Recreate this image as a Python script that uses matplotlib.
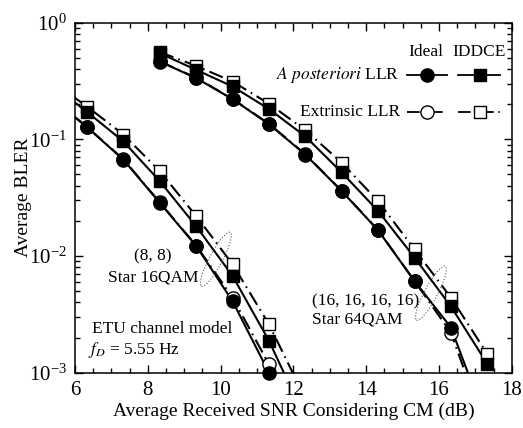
import matplotlib
matplotlib.use("Agg")
import matplotlib.pyplot as plt
import numpy as np
from matplotlib.lines import Line2D
from matplotlib.patches import Ellipse
from matplotlib.ticker import LogLocator, MultipleLocator, NullFormatter
from matplotlib.transforms import ScaledTranslation

plt.rcParams['font.family'] = 'serif'
plt.rcParams['font.serif'] = ['Liberation Serif', 'DejaVu Serif']
plt.rcParams['mathtext.fontset'] = 'stix'

# Star 16QAM (8, 8)
snr_16 = [5.33, 6.33, 7.33, 8.33, 9.33, 10.33, 11.33, 12.33]
ideal_app_16 = [0.23, 0.127, 0.067, 0.0286, 0.0122, 0.0041, 0.00100, 0.0002]
ideal_ext_16 = [0.23, 0.128, 0.0675, 0.0288, 0.0123, 0.0044, 0.00118, 0.00025]
iddce_app_16 = [0.30, 0.172, 0.096, 0.0438, 0.018, 0.00675, 0.00188, 0.0004]
iddce_ext_16 = [0.32, 0.191, 0.110, 0.0533, 0.022, 0.0085, 0.0026, 0.0006]

# Star 64QAM (16, 16, 16, 16)
snr_64 = [8.33, 9.33, 10.33, 11.33, 12.33, 13.33, 14.33, 15.33, 16.33, 17.33]
ideal_app_64 = [0.464, 0.335, 0.221, 0.135, 0.074, 0.036, 0.0166, 0.0061, 0.00244, 0.00036]
ideal_ext_64 = [0.466, 0.337, 0.222, 0.136, 0.0745, 0.0362, 0.0167, 0.0061, 0.0022, 0.0003]
iddce_app_64 = [0.547, 0.394, 0.284, 0.182, 0.106, 0.052, 0.0243, 0.0097, 0.0037, 0.00119]
iddce_ext_64 = [0.56, 0.426, 0.313, 0.202, 0.12, 0.063, 0.0295, 0.0114, 0.0044, 0.00145]

xmin, xmax = 6, 18
ymin, ymax = 1e-3, 1

dashdot = (0, (7, 2.5, 0.8, 2.5))
styles = {
    'ideal_app': dict(ls='-', marker='o', mfc='black', ms=9.5),
    'ideal_ext': dict(ls=dashdot, marker='o', mfc='white', ms=9.5),
    'iddce_app': dict(ls='-', marker='s', mfc='black', ms=9),
    'iddce_ext': dict(ls=dashdot, marker='s', mfc='white', ms=9),
}

fig = plt.figure(figsize=(5.23, 4.28), dpi=100)
ax = fig.add_axes([0.1434, 0.1292, 0.8350, 0.8178])
ax.set_yscale('log')
ax.set_xlim(xmin, xmax)
ax.set_ylim(ymin, ymax)


def draw(x, y, key):
    st = styles[key]
    x = np.array(x)
    y = np.array(y)
    # line is clipped at the frame, markers are not
    ax.plot(x, y, color='black', lw=1.5, ls=st['ls'], zorder=2)
    keep = (x >= xmin) & (y >= 0.00095)
    ax.plot(x[keep], y[keep], ls='none', marker=st['marker'], ms=st['ms'],
            mfc=st['mfc'], mec='black', mew=1.0, clip_on=False, zorder=3)


# extrinsic first so the filled markers sit on top
for key, snr, vals in [('iddce_ext', snr_16, iddce_ext_16),
                       ('ideal_ext', snr_16, ideal_ext_16),
                       ('iddce_app', snr_16, iddce_app_16),
                       ('ideal_app', snr_16, ideal_app_16),
                       ('iddce_ext', snr_64, iddce_ext_64),
                       ('ideal_ext', snr_64, ideal_ext_64),
                       ('iddce_app', snr_64, iddce_app_64),
                       ('ideal_app', snr_64, ideal_app_64)]:
    draw(snr, vals, key)

# ticks
ax.xaxis.set_major_locator(MultipleLocator(2))
ax.xaxis.set_minor_locator(MultipleLocator(0.5))
ax.yaxis.set_major_locator(LogLocator(base=10, numticks=10))
ax.yaxis.set_minor_locator(LogLocator(base=10, subs=np.arange(2, 10), numticks=10))
ax.yaxis.set_minor_formatter(NullFormatter())
ax.tick_params(which='both', direction='in', top=True, right=True, labelsize=15, width=1)
ax.tick_params(which='major', length=6, pad=6)
ax.tick_params(which='minor', length=3.5)
for s in ax.spines.values():
    s.set_linewidth(1.1)

ax.set_xlabel('Average Received SNR Considering CM (dB)', fontsize=14, labelpad=2)
ax.set_ylabel('Average BLER', fontsize=14)
ax.yaxis.set_label_coords(-0.098, 0.5)

# legend drawn by hand: two marker columns with headers
ax.text(0.804, 0.917, 'Ideal', transform=ax.transAxes, ha='center', va='center', fontsize=12.5)
ax.text(0.925, 0.917, 'IDDCE', transform=ax.transAxes, ha='center', va='center', fontsize=12.5)
rows = [(0.851, r'$\it{A\ posteriori}$ LLR', 'ideal_app', 'iddce_app'),
        (0.746, 'Extrinsic LLR', 'ideal_ext', 'iddce_ext')]
for yy, label, k1, k2 in rows:
    ax.text(0.744, yy, label, transform=ax.transAxes, ha='right', va='center', fontsize=12.5)
    for key, x0, x1, xm in [(k1, 0.760, 0.851, 0.805), (k2, 0.877, 0.973, 0.927)]:
        st = styles[key]
        ax.add_line(Line2D([x0, x1], [yy, yy], transform=ax.transAxes, color='black',
                           lw=1.3, ls=st['ls']))
        ax.add_line(Line2D([xm], [yy], transform=ax.transAxes, ls='none',
                           marker=st['marker'], ms=st['ms'], mfc=st['mfc'],
                           mec='black', mew=1.0))

# annotations
ax.text(0.179, 0.333, '(8, 8)', transform=ax.transAxes, ha='center', va='center', fontsize=12.5)
ax.text(0.179, 0.273, 'Star 16QAM', transform=ax.transAxes, ha='center', va='center', fontsize=12.5)
ax.text(0.542, 0.203, '(16, 16, 16, 16)', transform=ax.transAxes, ha='left', va='center', fontsize=12.5)
ax.text(0.542, 0.153, 'Star 64QAM', transform=ax.transAxes, ha='left', va='center', fontsize=12.5)
ax.text(0.038, 0.125, 'ETU channel model', transform=ax.transAxes, ha='left', va='center', fontsize=12.5)
ax.text(0.030, 0.065, r'$f_D$ = 5.55 Hz', transform=ax.transAxes, ha='left', va='center', fontsize=12.5)

# dotted ellipses grouping the curves
for xc, yc in [(9.87, 0.00937), (15.78, 0.0048)]:
    tr = fig.dpi_scale_trans + ScaledTranslation(xc, yc, ax.transData)
    ax.add_patch(Ellipse((0, 0), 0.13, 0.61, angle=-28, transform=tr, fill=False,
                         ls=':', lw=0.8, ec='0.35', zorder=4))

fig.savefig('out.png', dpi=100)
